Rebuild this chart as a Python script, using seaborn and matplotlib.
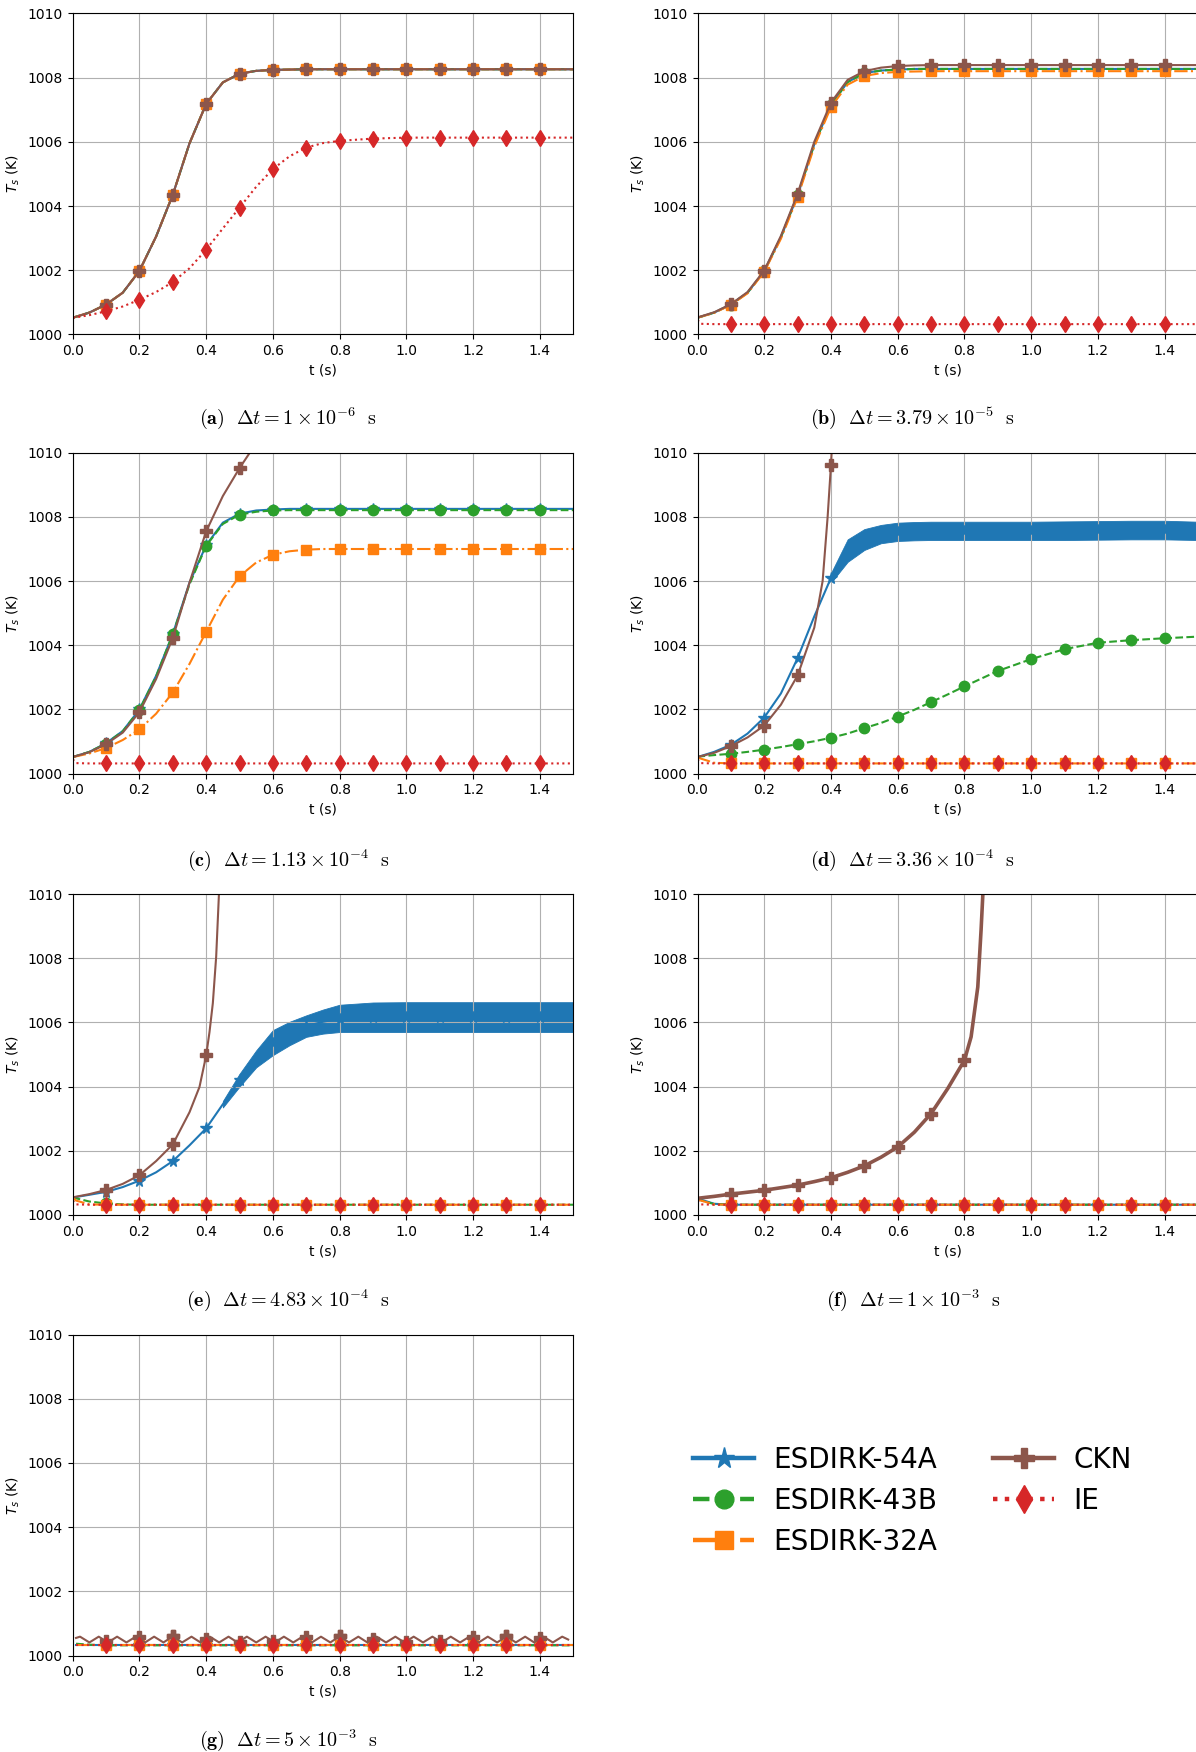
import matplotlib
matplotlib.use("Agg")
import matplotlib.pyplot as plt
from matplotlib.lines import Line2D
import seaborn as sns

W, H = 1196, 1752

# sample times (s) used by most series
T = [0.0, 0.01, 0.05, 0.1, 0.15, 0.2, 0.25, 0.3, 0.35, 0.4, 0.45, 0.5, 0.55,
     0.6, 0.65, 0.7, 0.75, 0.8, 0.9, 1.0, 1.1, 1.2, 1.3, 1.4, 1.5]
T_MARK = [0.1, 0.2, 0.3, 0.4, 0.5, 0.6, 0.7, 0.8, 0.9, 1.0, 1.1, 1.2, 1.3, 1.4]

IE_FLAT = [1000.45, 1000.33, 1000.32, 1000.32, 1000.32, 1000.32, 1000.32, 1000.32,
           1000.32, 1000.32, 1000.32, 1000.32, 1000.32, 1000.32, 1000.32, 1000.32,
           1000.32, 1000.32, 1000.32, 1000.32, 1000.32, 1000.32, 1000.32, 1000.32, 1000.32]

# (a) dt = 1e-6
A_REF = [1000.52, 1000.55, 1000.68, 1000.93, 1001.3, 1001.98, 1003.05, 1004.35, 1005.95,
         1007.18, 1007.85, 1008.12, 1008.21, 1008.24, 1008.25, 1008.26, 1008.26, 1008.26,
         1008.26, 1008.26, 1008.26, 1008.26, 1008.26, 1008.26, 1008.26]
A_IE = [1000.52, 1000.53, 1000.6, 1000.72, 1000.87, 1001.08, 1001.32, 1001.63, 1002.06,
        1002.64, 1003.3, 1003.95, 1004.6, 1005.15, 1005.55, 1005.82, 1005.96, 1006.03,
        1006.1, 1006.13, 1006.13, 1006.13, 1006.13, 1006.13, 1006.13]

# (b) dt = 3.79e-5
B_ESDIRK = [1000.52, 1000.55, 1000.68, 1000.93, 1001.3, 1001.97, 1003.03, 1004.33, 1005.92,
            1007.15, 1007.86, 1008.14, 1008.22, 1008.25, 1008.27, 1008.27, 1008.27, 1008.27,
            1008.27, 1008.27, 1008.27, 1008.27, 1008.27, 1008.27, 1008.27]
B_32A = [1000.52, 1000.55, 1000.67, 1000.92, 1001.28, 1001.95, 1002.98, 1004.27, 1005.85,
         1007.08, 1007.78, 1008.05, 1008.14, 1008.18, 1008.19, 1008.2, 1008.2, 1008.2,
         1008.2, 1008.2, 1008.2, 1008.2, 1008.2, 1008.2, 1008.2]
B_CKN = [1000.53, 1000.56, 1000.69, 1000.94, 1001.32, 1001.99, 1003.07, 1004.38, 1006.0,
         1007.22, 1007.93, 1008.2, 1008.31, 1008.36, 1008.38, 1008.39, 1008.39, 1008.39,
         1008.39, 1008.39, 1008.39, 1008.39, 1008.39, 1008.39, 1008.39]

# (c) dt = 1.13e-4
C_54A = [1000.52, 1000.55, 1000.68, 1000.95, 1001.33, 1002.0, 1003.05, 1004.35, 1005.95,
         1007.12, 1007.82, 1008.1, 1008.2, 1008.23, 1008.25, 1008.25, 1008.25, 1008.25,
         1008.25, 1008.25, 1008.25, 1008.25, 1008.25, 1008.25, 1008.25]
C_43B = [1000.52, 1000.55, 1000.68, 1000.94, 1001.32, 1001.99, 1003.03, 1004.35, 1005.9,
         1007.1, 1007.78, 1008.07, 1008.16, 1008.2, 1008.21, 1008.21, 1008.21, 1008.21,
         1008.21, 1008.21, 1008.21, 1008.21, 1008.21, 1008.21, 1008.21]
C_32A = [1000.52, 1000.54, 1000.63, 1000.8, 1001.05, 1001.38, 1001.87, 1002.53, 1003.42,
         1004.42, 1005.42, 1006.15, 1006.58, 1006.82, 1006.93, 1006.98, 1007.0, 1007.0,
         1007.0, 1007.0, 1007.0, 1007.0, 1007.0, 1007.0, 1007.0]
C_CKN = [1000.52, 1000.55, 1000.67, 1000.92, 1001.28, 1001.92, 1002.95, 1004.23, 1005.95,
         1007.55, 1008.65, 1009.52, 1010.3]

# (d) dt = 3.36e-4
D_54A = [1000.52, 1000.55, 1000.68, 1000.9, 1001.25, 1001.75, 1002.5, 1003.6, 1004.9,
         1006.1, 1006.95, 1007.3, 1007.47, 1007.54, 1007.56, 1007.56, 1007.56, 1007.56,
         1007.56, 1007.56, 1007.57, 1007.58, 1007.6, 1007.6, 1007.58]
D_54A_LO = [1005.95, 1006.6, 1006.97, 1007.18, 1007.25, 1007.27, 1007.28, 1007.28,
            1007.28, 1007.28, 1007.28, 1007.28, 1007.29, 1007.3, 1007.3, 1007.28]
D_54A_HI = [1006.25, 1007.3, 1007.62, 1007.75, 1007.82, 1007.84, 1007.85, 1007.85,
            1007.85, 1007.85, 1007.85, 1007.86, 1007.87, 1007.88, 1007.88, 1007.85]
D_43B = [1000.52, 1000.54, 1000.58, 1000.62, 1000.68, 1000.75, 1000.83, 1000.92, 1001.01,
         1001.12, 1001.25, 1001.42, 1001.58, 1001.78, 1001.99, 1002.23, 1002.47, 1002.72,
         1003.2, 1003.57, 1003.88, 1004.08, 1004.16, 1004.22, 1004.27]
D_32A = [1000.52, 1000.47, 1000.34, 1000.32, 1000.32, 1000.32, 1000.32, 1000.32, 1000.32,
         1000.32, 1000.32, 1000.32, 1000.32, 1000.32, 1000.32, 1000.32, 1000.32, 1000.32,
         1000.32, 1000.32, 1000.32, 1000.32, 1000.32, 1000.32, 1000.32]
D_CKN_T = [0.0, 0.05, 0.1, 0.15, 0.2, 0.25, 0.3, 0.35, 0.375, 0.39, 0.4, 0.405]
D_CKN = [1000.52, 1000.65, 1000.86, 1001.13, 1001.5, 1002.15, 1003.06, 1004.55, 1006.0,
         1008.0, 1009.62, 1010.6]

# (e) dt = 4.83e-4
E_54A = [1000.55, 1000.56, 1000.63, 1000.72, 1000.87, 1001.07, 1001.33, 1001.68, 1002.17,
         1002.7, 1003.45, 1004.2, 1004.87, 1005.37, 1005.65, 1005.88, 1006.02, 1006.12,
         1006.17, 1006.17, 1006.17, 1006.17, 1006.17, 1006.17, 1006.17]
E_54A_LO = [1003.35, 1004.0, 1004.6, 1004.98, 1005.29, 1005.55, 1005.65, 1005.7, 1005.7,
            1005.7, 1005.7, 1005.7, 1005.7, 1005.7, 1005.7]
E_54A_HI = [1003.55, 1004.4, 1005.13, 1005.76, 1006.02, 1006.22, 1006.4, 1006.55, 1006.62,
            1006.63, 1006.63, 1006.63, 1006.63, 1006.63, 1006.63]
E_43B = [1000.55, 1000.52, 1000.42, 1000.36, 1000.33, 1000.32, 1000.32, 1000.32, 1000.32,
         1000.32, 1000.32, 1000.32, 1000.32, 1000.32, 1000.32, 1000.32, 1000.32, 1000.32,
         1000.32, 1000.32, 1000.32, 1000.32, 1000.32, 1000.32, 1000.32]
E_32A = [1000.55, 1000.45, 1000.33, 1000.32, 1000.32, 1000.32, 1000.32, 1000.32, 1000.32,
         1000.32, 1000.32, 1000.32, 1000.32, 1000.32, 1000.32, 1000.32, 1000.32, 1000.32,
         1000.32, 1000.32, 1000.32, 1000.32, 1000.32, 1000.32, 1000.32]
E_CKN_T = [0.0, 0.05, 0.1, 0.15, 0.2, 0.25, 0.3, 0.35, 0.38, 0.4, 0.41, 0.42, 0.43, 0.44]
E_CKN = [1000.55, 1000.65, 1000.78, 1000.97, 1001.24, 1001.68, 1002.2, 1003.2, 1003.99,
         1004.97, 1005.7, 1006.6, 1008.05, 1010.4]

# (f) dt = 1e-3
F_54A = [1000.52, 1000.48, 1000.35, 1000.32, 1000.32, 1000.32, 1000.32, 1000.32, 1000.32,
         1000.32, 1000.32, 1000.32, 1000.32, 1000.32, 1000.32, 1000.32, 1000.32, 1000.32,
         1000.32, 1000.32, 1000.32, 1000.32, 1000.32, 1000.32, 1000.32]
F_43B = [1000.52, 1000.46, 1000.34, 1000.32, 1000.32, 1000.32, 1000.32, 1000.32, 1000.32,
         1000.32, 1000.32, 1000.32, 1000.32, 1000.32, 1000.32, 1000.32, 1000.32, 1000.32,
         1000.32, 1000.32, 1000.32, 1000.32, 1000.32, 1000.32, 1000.32]
F_32A = [1000.52, 1000.45, 1000.33, 1000.32, 1000.32, 1000.32, 1000.32, 1000.32, 1000.32,
         1000.32, 1000.32, 1000.32, 1000.32, 1000.32, 1000.32, 1000.32, 1000.32, 1000.32,
         1000.32, 1000.32, 1000.32, 1000.32, 1000.32, 1000.32, 1000.32]
F_CKN_T = [0.0, 0.05, 0.1, 0.15, 0.2, 0.25, 0.3, 0.35, 0.4, 0.45, 0.5, 0.55, 0.6, 0.65,
           0.7, 0.75, 0.8, 0.82, 0.84, 0.85, 0.86]
F_CKN = [1000.52, 1000.58, 1000.65, 1000.71, 1000.77, 1000.85, 1000.93, 1001.04, 1001.16,
         1001.33, 1001.53, 1001.8, 1002.12, 1002.58, 1003.16, 1003.94, 1004.82, 1005.55,
         1007.1, 1008.9, 1011.0]

# (g) dt = 5e-3 (series start at t = 0.01)
G_FLAT = [1000.32, 1000.32, 1000.32, 1000.32, 1000.32, 1000.32, 1000.32, 1000.32,
          1000.32, 1000.32, 1000.32, 1000.32, 1000.32, 1000.32, 1000.32, 1000.32,
          1000.32, 1000.32, 1000.32, 1000.32, 1000.32, 1000.32, 1000.32, 1000.32]
G_43B = [1000.37, 1000.34, 1000.32, 1000.32, 1000.32, 1000.32, 1000.32, 1000.32,
         1000.32, 1000.32, 1000.32, 1000.32, 1000.32, 1000.32, 1000.32, 1000.32,
         1000.32, 1000.32, 1000.32, 1000.32, 1000.32, 1000.32, 1000.32, 1000.32]
G_CKN_T = [0.01, 0.022, 0.05, 0.078, 0.106, 0.133, 0.161, 0.189, 0.217, 0.244, 0.272,
           0.3, 0.328, 0.356, 0.383, 0.411, 0.439, 0.467, 0.494, 0.522, 0.55, 0.578,
           0.606, 0.633, 0.661, 0.689, 0.717, 0.744, 0.772, 0.8, 0.828, 0.856, 0.883,
           0.911, 0.939, 0.967, 0.994, 1.022, 1.05, 1.078, 1.106, 1.133, 1.161, 1.189,
           1.217, 1.244, 1.272, 1.3, 1.328, 1.356, 1.383, 1.411, 1.439, 1.467, 1.485]
G_CKN = [1000.55, 1000.59, 1000.41, 1000.59, 1000.41, 1000.59, 1000.41, 1000.59, 1000.41,
         1000.59, 1000.41, 1000.6, 1000.41, 1000.59, 1000.41, 1000.59, 1000.41, 1000.59,
         1000.41, 1000.59, 1000.41, 1000.59, 1000.41, 1000.59, 1000.41, 1000.59, 1000.41,
         1000.59, 1000.41, 1000.6, 1000.41, 1000.59, 1000.41, 1000.59, 1000.41, 1000.59,
         1000.41, 1000.59, 1000.41, 1000.59, 1000.41, 1000.59, 1000.41, 1000.59, 1000.41,
         1000.59, 1000.41, 1000.6, 1000.41, 1000.59, 1000.41, 1000.59, 1000.41, 1000.59,
         1000.5]
G_CKN_MK = [1000.44, 1000.57, 1000.62, 1000.52, 1000.41, 1000.46, 1000.58, 1000.62,
            1000.52, 1000.41, 1000.46, 1000.57, 1000.62, 1000.56]

STYLE = {
    "ESDIRK-54A": dict(color="tab:blue", ls="-", marker="*", ms=8.5),
    "ESDIRK-43B": dict(color="tab:green", ls="--", marker="o", ms=7.5),
    "ESDIRK-32A": dict(color="tab:orange", ls="-.", marker="s", ms=7.5),
    "CKN": dict(color="tab:brown", ls="-", marker="P", ms=8),
    "IE": dict(color="tab:red", ls=":", marker="d", ms=8),
}

PANEL_TAGS = ["(a)", "(b)", "(c)", "(d)", "(e)", "(f)", "(g)"]
PANEL_DT = [r"1 \times 10^{-6}", r"3.79 \times 10^{-5}", r"1.13 \times 10^{-4}",
            r"3.36 \times 10^{-4}", r"4.83 \times 10^{-4}", r"1 \times 10^{-3}",
            r"5 \times 10^{-3}"]


def draw(ax, name, y, t=T, lw=1.5, ls=None):
    st = STYLE[name]
    t = t[:len(y)]
    idx = [i for i, v in enumerate(t) if any(abs(v - m) < 1e-6 for m in T_MARK)]
    sns.lineplot(x=t, y=y, ax=ax, color=st["color"], linestyle=ls or st["ls"],
                 linewidth=lw, marker=st["marker"], markersize=st["ms"],
                 markeredgecolor=st["color"], markeredgewidth=1.0,
                 markevery=idx, errorbar=None, estimator=None)


def band(ax, t, lo, hi):
    ax.fill_between(t, lo, hi, color="tab:blue", linewidth=0.6, edgecolor="tab:blue")


def setup(ax):
    ax.set_xlim(0, 1.5)
    ax.set_ylim(1000, 1010)
    ax.set_xticks([0.0, 0.2, 0.4, 0.6, 0.8, 1.0, 1.2, 1.4])
    ax.set_yticks([1000, 1002, 1004, 1006, 1008, 1010])
    ax.tick_params(labelsize=10)
    ax.grid(True)
    ax.set_xlabel("t (s)", fontsize=10)
    ax.set_ylabel("$T_s$ (K)", fontsize=10)


fig = plt.figure(figsize=(W / 100, H / 100), dpi=100)

col_left = [72.7, 697.5]
row_top = [13.4, 452.7, 894.0, 1334.6]
ax_w, ax_h = 500.5, 321.0
cap_x = [288, 913]
cap_y = [418, 860, 1300, 1740]

axes = []
for k in range(7):
    r, c = divmod(k, 2)
    ax = fig.add_axes([col_left[c] / W, 1 - (row_top[r] + ax_h) / H, ax_w / W, ax_h / H])
    axes.append(ax)
    cap = r"$\mathbf{%s}\ \ \Delta t = %s\ \ \mathrm{s}$" % (PANEL_TAGS[k], PANEL_DT[k])
    fig.text(cap_x[c] / W, 1 - cap_y[r] / H, cap, ha="center", va="center",
             fontsize=14.5, math_fontfamily="cm")

# (a)
ax = axes[0]
for name in ["ESDIRK-54A", "ESDIRK-43B", "ESDIRK-32A", "CKN"]:
    draw(ax, name, A_REF)
draw(ax, "IE", A_IE)

# (b)
ax = axes[1]
draw(ax, "ESDIRK-54A", B_ESDIRK)
draw(ax, "ESDIRK-43B", B_ESDIRK)
draw(ax, "ESDIRK-32A", B_32A)
draw(ax, "CKN", B_CKN)
draw(ax, "IE", IE_FLAT)

# (c)
ax = axes[2]
draw(ax, "ESDIRK-54A", C_54A)
draw(ax, "ESDIRK-43B", C_43B)
draw(ax, "ESDIRK-32A", C_32A)
draw(ax, "CKN", C_CKN)
draw(ax, "IE", IE_FLAT)

# (d)
ax = axes[3]
draw(ax, "ESDIRK-54A", D_54A)
band(ax, T[9:], D_54A_LO, D_54A_HI)
draw(ax, "ESDIRK-43B", D_43B)
draw(ax, "ESDIRK-32A", D_32A)
draw(ax, "CKN", D_CKN, t=D_CKN_T)
draw(ax, "IE", IE_FLAT)

# (e)
ax = axes[4]
draw(ax, "ESDIRK-54A", E_54A)
band(ax, T[10:], E_54A_LO, E_54A_HI)
draw(ax, "ESDIRK-43B", E_43B)
draw(ax, "ESDIRK-32A", E_32A)
draw(ax, "CKN", E_CKN, t=E_CKN_T)
draw(ax, "IE", IE_FLAT)

# (f)
ax = axes[5]
draw(ax, "ESDIRK-54A", F_54A)
draw(ax, "ESDIRK-43B", F_43B)
draw(ax, "ESDIRK-32A", F_32A)
draw(ax, "CKN", F_CKN, t=F_CKN_T, lw=2.6)
draw(ax, "IE", IE_FLAT)

# (g)
ax = axes[6]
draw(ax, "ESDIRK-54A", G_FLAT, t=T[1:])
draw(ax, "ESDIRK-43B", G_43B, t=T[1:])
draw(ax, "ESDIRK-32A", G_FLAT, t=T[1:])
draw(ax, "CKN", G_CKN, t=G_CKN_T)
draw(ax, "CKN", G_CKN_MK, t=T_MARK, ls="none")
draw(ax, "IE", G_FLAT, t=T[1:])

for ax in axes:
    setup(ax)

handles = [Line2D([], [], color=st["color"], linestyle=st["ls"], linewidth=3.2,
                  marker=st["marker"], markersize=st["ms"] * 1.8)
           for st in STYLE.values()]
fig.legend(handles, list(STYLE.keys()), ncol=2, loc="upper left",
           bbox_to_anchor=(693 / W, 1 - 1446 / H), frameon=False, fontsize=20,
           handlelength=2.2, handletextpad=0.7, labelspacing=0.47,
           columnspacing=2.0, borderpad=0, borderaxespad=0)

fig.savefig("out.png", dpi=100)
